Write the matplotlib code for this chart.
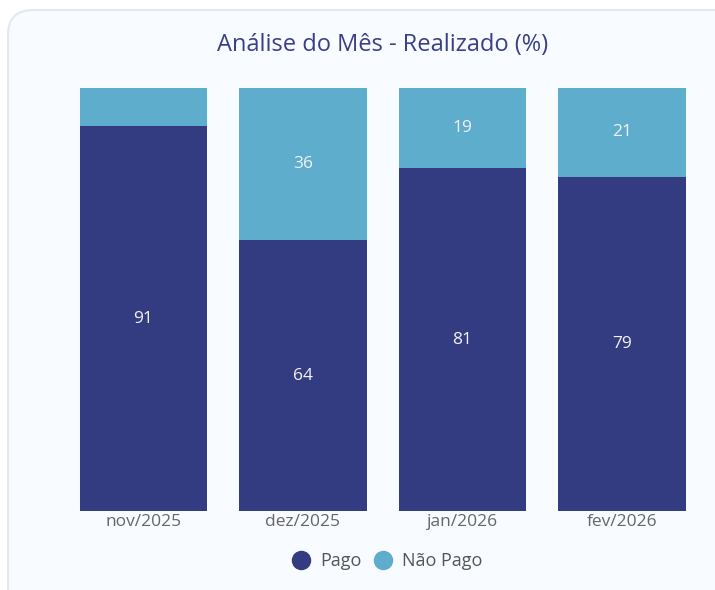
import matplotlib
matplotlib.use('Agg')
import matplotlib.pyplot as plt
from matplotlib.patches import FancyBboxPatch
from matplotlib.lines import Line2D
import numpy as np

plt.rcParams['font.family'] = ['Open Sans', 'DejaVu Sans']

months = ['nov/2025', 'dez/2025', 'jan/2026', 'fev/2026']
pago = [91, 64, 81, 79]
nao_pago = [9, 36, 19, 21]
series_names = ['Pago', 'Não Pago']
colors = ['#343c81', '#5eadcd']

W, H = 715, 590
fig = plt.figure(figsize=(W / 100, H / 100), dpi=100)
fig.patch.set_facecolor('white')

# card background (extends past the right and bottom edges)
card = FancyBboxPatch((8 / W, -40 / H), 760 / W, 620 / H,
                      boxstyle='round,pad=0,rounding_size=0.035',
                      mutation_aspect=W / H,
                      transform=fig.transFigure, facecolor='#f8fbff',
                      edgecolor='#e2e8f0', linewidth=1.5, zorder=-5)
fig.patches.append(card)

ax = fig.add_axes([63.75 / W, 1 - 511 / H, 638 / W, 423 / H])
ax.set_facecolor('none')
ax.set_zorder(2)
x = np.arange(len(months))
ax.bar(x, pago, width=0.8, color=colors[0], edgecolor='none')
ax.bar(x, nao_pago, width=0.8, bottom=pago, color=colors[1], edgecolor='none')

for i in range(len(months)):
    ax.text(x[i], pago[i] / 2, str(pago[i]), ha='center', va='center',
            color='#f2f2f2', fontsize=12.5)
    if nao_pago[i] >= 15:
        ax.text(x[i], pago[i] + nao_pago[i] / 2, str(nao_pago[i]), ha='center',
                va='center', color='#f2f2f2', fontsize=12.5)

ax.set_xlim(-0.5, 3.5)
ax.set_ylim(0, 100)
ax.set_xticks(x)
ax.set_xticklabels(months, fontsize=12.5, color='#666666')
ax.tick_params(axis='x', length=0, pad=2)
ax.set_yticks([])
for s in ax.spines.values():
    s.set_visible(False)

fig.text(383 / W, 1 - 45 / H, 'Análise do Mês - Realizado (%)', ha='center',
         va='center', fontsize=17, color='#3a3f8a')

handles = [Line2D([], [], marker='o', linestyle='none', markersize=13,
                  markerfacecolor=c, markeredgecolor=c) for c in colors]
fig.legend(handles, series_names, loc='center', bbox_to_anchor=(383 / W, 1 - 561 / H),
           ncol=2, frameon=False, fontsize=13, handletextpad=0.05,
           columnspacing=0.2, labelcolor='#555555')

fig.savefig('out.png', dpi=100)
